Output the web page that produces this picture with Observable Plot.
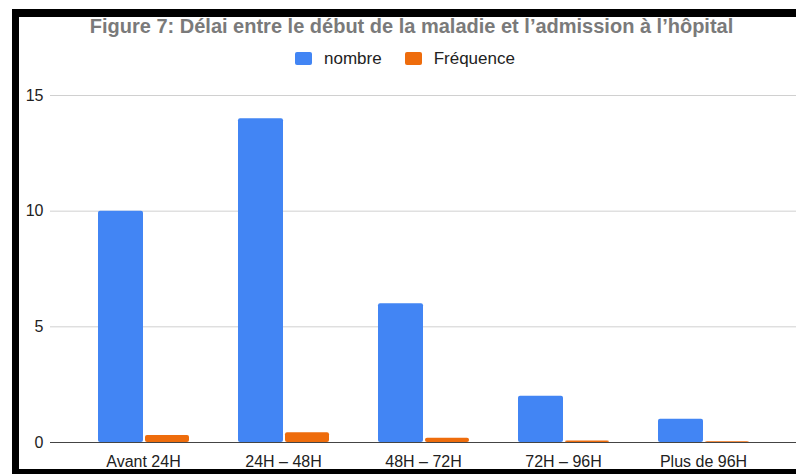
<!DOCTYPE html>
<html>
<head>
<meta charset="utf-8">
<script src="https://cdn.jsdelivr.net/npm/d3@7"></script>
<script src="https://cdn.jsdelivr.net/npm/@observablehq/plot@0.6"></script>
<style>
  html, body { margin: 0; padding: 0; background: #fff; font-family: "Liberation Sans", Arial, sans-serif; overflow: hidden; }
  #frame { position: absolute; left: 12px; top: 9px; width: 784px; height: 465px; box-sizing: border-box;
           border-left: 7px solid #000; border-top: 8px solid #000; border-bottom: 5px solid #000; }
  #title { position: absolute; left: 0; width: 823px; top: 16px; line-height: 20px; text-align: center; font-weight: bold; font-size: 20px; color: #7a7a7a; white-space: nowrap; }
  #legend { position: absolute; left: 295px; top: 50px; height: 17px; font-size: 17px; line-height: 17px; color: #222; display: flex; align-items: center; white-space: nowrap; }
  .sw { display: inline-block; width: 17px; height: 13px; border-radius: 2px; margin-right: 12px; }
  .item { display: flex; align-items: center; margin-right: 23px; }
  #chart { position: absolute; left: 0; top: 0; }
</style>
</head>
<body>
<div id="frame"></div>
<div id="title">Figure 7: Délai entre le début de la maladie et l’admission à l’hôpital</div>
<div id="legend"></div>
<div id="chart"></div>
<script>
const categories = ["Avant 24H", "24H – 48H", "48H – 72H", "72H – 96H", "Plus de 96H"];
const nombre = [10, 14, 6, 2, 1];
const frequence = [0.30, 0.42, 0.18, 0.06, 0.03];
const series = ["nombre", "Fréquence"];
const colors = ["#4285f4", "#ee6c0c"];
const yTicks = [0, 5, 10, 15];

const nombreData = categories.map((c, i) => ({category: c, value: nombre[i]}));
const freqData = categories.map((c, i) => ({category: c, value: frequence[i]}));

const legend = document.getElementById("legend");
series.forEach((s, i) => {
  const it = document.createElement("div");
  it.className = "item";
  it.innerHTML = `<span class="sw" style="background:${colors[i]}"></span><span>${s}</span>`;
  legend.appendChild(it);
});

const chart = Plot.plot({
  width: 796,
  height: 474,
  marginTop: 95,
  marginBottom: 32,
  marginLeft: 50,
  marginRight: 0,
  style: {background: "transparent", fontFamily: "Liberation Sans, Arial, sans-serif", fontSize: "16px", color: "#222"},
  x: {domain: categories, range: [73, 773], padding: 0, label: null, tickSize: 0, tickPadding: 13},
  y: {domain: [0, 15], ticks: yTicks, label: null, tickSize: 0, tickPadding: 7},
  marks: [
    Plot.ruleY(yTicks.filter(d => d > 0), {stroke: "#d0d0d0"}),
    Plot.barY(nombreData, {x: "category", y: "value", fill: colors[0], insetLeft: 25, insetRight: 70, rx: 2}),
    Plot.barY(freqData, {x: "category", y: "value", fill: colors[1], insetLeft: 72, insetRight: 24, rx: 2}),
    Plot.ruleY([0], {stroke: "#444"})
  ]
});
document.getElementById("chart").appendChild(chart);
</script>
</body>
</html>
